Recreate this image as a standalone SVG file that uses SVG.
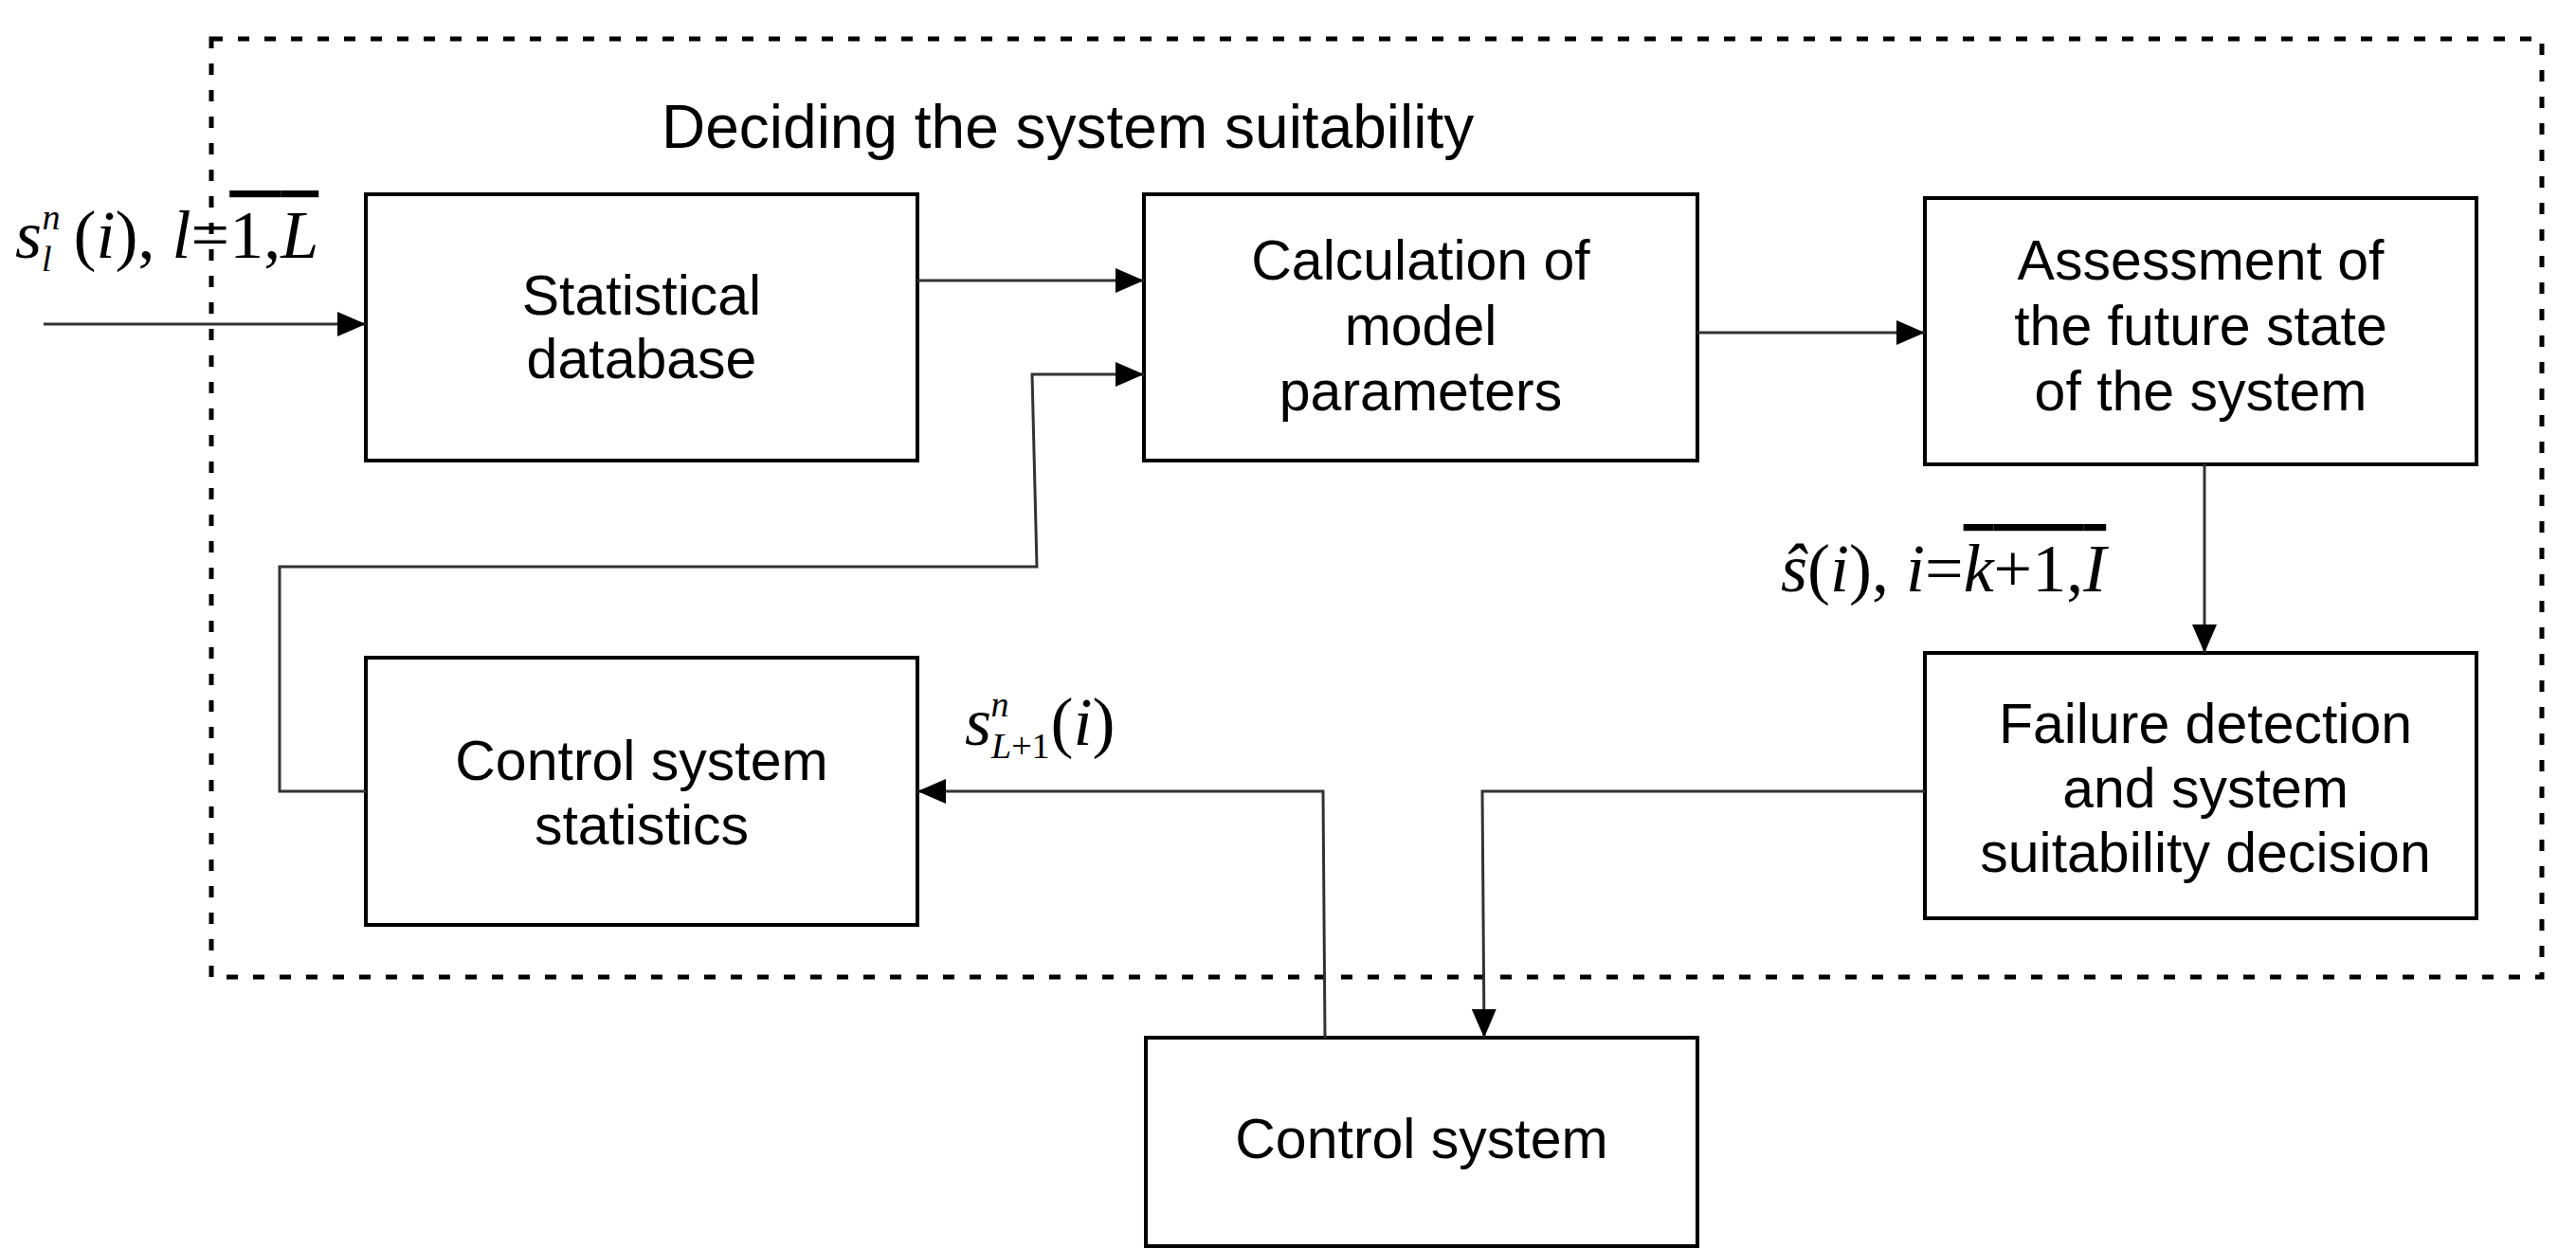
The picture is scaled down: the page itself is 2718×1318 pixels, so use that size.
<svg xmlns="http://www.w3.org/2000/svg" width="2718" height="1318" viewBox="0 0 2718 1318">
<defs>
<style>
.b{fill:#fff;stroke:#000;stroke-width:4}
.t{font-family:"Liberation Sans",Arial,sans-serif;font-size:59px;text-anchor:middle;fill:#000}
.m{font-family:"Liberation Serif","Times New Roman",serif;font-size:72px;fill:#000}
.o{text-decoration:overline}
.c{fill:none;stroke:#333;stroke-width:3}
</style>
<marker id="A" viewBox="0 0 30 26" refX="30" refY="13" markerWidth="30" markerHeight="26" orient="auto" markerUnits="userSpaceOnUse"><path d="M0,0L30,13L0,26z" fill="#000"/></marker>
</defs>
<rect x="223" y="41" width="2459" height="990" fill="none" stroke="#000" stroke-width="5" stroke-dasharray="12,16"/>
<text x="698" y="156" class="t" style="text-anchor:start;font-size:64px">Deciding the system suitability</text>
<g id="n1"><rect class="b" x="386" y="205" width="582" height="281"/><text class="t" x="677" y="332">Statistical</text><text class="t" x="677" y="399">database</text></g>
<g id="n2"><rect class="b" x="1207" y="205" width="584" height="281"/><text class="t" x="1499" y="295">Calculation of</text><text class="t" x="1499" y="364">model</text><text class="t" x="1499" y="433">parameters</text></g>
<g id="n3"><rect class="b" x="2031" y="209" width="582" height="281"/><text class="t" x="2322" y="295">Assessment of</text><text class="t" x="2322" y="364">the future state</text><text class="t" x="2322" y="433">of the system</text></g>
<g id="n4"><rect class="b" x="2031" y="689" width="582" height="280"/><text class="t" x="2327" y="784">Failure detection</text><text class="t" x="2327" y="852">and system</text><text class="t" x="2327" y="920">suitability decision</text></g>
<g id="n5"><rect class="b" x="386" y="694" width="582" height="282"/><text class="t" x="677" y="823">Control system</text><text class="t" x="677" y="891">statistics</text></g>
<g id="n6"><rect class="b" x="1209" y="1095" width="582" height="220"/><text class="t" x="1500" y="1222">Control system</text></g>
<g id="connectors">
<path class="c" d="M46,342H386" marker-end="url(#A)"/>
<path class="c" d="M968,296H1207" marker-end="url(#A)"/>
<path class="c" d="M386,835H295V598H1094L1089,395H1207" marker-end="url(#A)"/>
<path class="c" d="M1791,351H2031" marker-end="url(#A)"/>
<path class="c" d="M2326,490V689" marker-end="url(#A)"/>
<path class="c" d="M2031,835H1564L1566,1095" marker-end="url(#A)"/>
<path class="c" d="M1398,1095L1396,835H968" marker-end="url(#A)"/>
</g>
<g id="labels">
<text class="m" x="16" y="272"><tspan font-style="italic">s</tspan><tspan font-style="italic" font-size="38" dy="14">l</tspan><tspan font-style="italic" font-size="38" dx="-10" dy="-44">n</tspan><tspan dx="14" dy="30">(</tspan><tspan font-style="italic">i</tspan><tspan>),  </tspan><tspan font-style="italic">l</tspan><tspan>=</tspan><tspan class="o">1,<tspan font-style="italic">L</tspan></tspan></text>
<text class="m" x="1018" y="786"><tspan font-style="italic">s</tspan><tspan font-style="italic" font-size="38" dy="14">L</tspan><tspan font-size="38">+1</tspan><tspan font-style="italic" font-size="38" dx="-62" dy="-44">n</tspan><tspan dx="44" dy="30">(</tspan><tspan font-style="italic">i</tspan><tspan>)</tspan></text>
<text class="m" x="1879" y="624"><tspan font-style="italic">ŝ</tspan><tspan>(</tspan><tspan font-style="italic">i</tspan><tspan>), </tspan><tspan font-style="italic">i</tspan><tspan>=</tspan><tspan class="o"><tspan font-style="italic">k</tspan>+1,<tspan font-style="italic">I</tspan></tspan></text>
</g>
</svg>
